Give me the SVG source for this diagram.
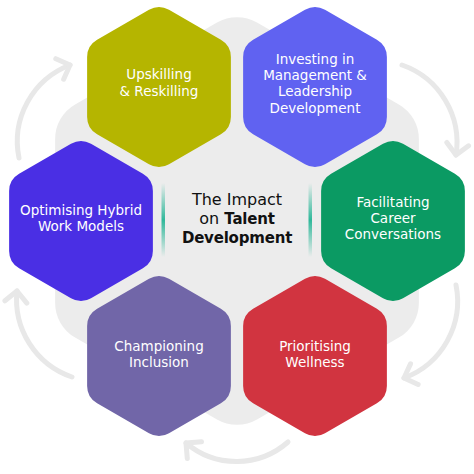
<svg xmlns="http://www.w3.org/2000/svg" xmlns:xlink="http://www.w3.org/1999/xlink" width="474" height="474" viewBox="0 0 474 474">
<style>
  .lbl{font-family:"DejaVu Sans","Liberation Sans",sans-serif;font-size:13.5px;fill:#ffffff;text-anchor:middle}
  .ctr{font-family:"DejaVu Sans","Liberation Sans",sans-serif;font-size:16px;fill:#111111;text-anchor:middle}
  .b{font-weight:700;font-size:15px;letter-spacing:-0.2px}
  .arc{fill:none;stroke:#e8e8e8;stroke-width:5;stroke-linecap:round;marker-end:url(#chev)}
</style>
<defs>
  <path id="hex" d="M10,-77.23 L61.88,-47.27 A20 20 0 0 1 71.88,-29.95 L71.88,29.95 A20 20 0 0 1 61.88,47.27 L10,77.23 A20 20 0 0 1 -10,77.23 L-61.88,47.27 A20 20 0 0 1 -71.88,29.95 L-71.88,-29.95 A20 20 0 0 1 -61.88,-47.27 L-10,-77.23 A20 20 0 0 1 10,-77.23 Z"/>
  <marker id="chev" viewBox="-16 -14 20 28" markerWidth="20" markerHeight="28" refX="0" refY="0" orient="auto" markerUnits="userSpaceOnUse">
    <path d="M-11,-11 L0,0 L-11,11" fill="none" stroke="#e8e8e8" stroke-width="5" stroke-linecap="round" stroke-linejoin="round"/>
  </marker>
  <linearGradient id="teal" x1="0" y1="0" x2="0" y2="1">
    <stop offset="0" stop-color="#2fb89a" stop-opacity="0"/>
    <stop offset="0.5" stop-color="#2fb89a" stop-opacity="1"/>
    <stop offset="1" stop-color="#2fb89a" stop-opacity="0"/>
  </linearGradient>
</defs>
<rect width="474" height="474" fill="#ffffff"/>
<path id="backdrop" transform="translate(237,221)" fill="#ececec" d="M20,-198.45 L161.87,-116.55 A40 40 0 0 1 181.87,-81.9 L181.87,81.9 A40 40 0 0 1 161.87,116.55 L20,198.45 A40 40 0 0 1 -20,198.45 L-161.87,116.55 A40 40 0 0 1 -181.87,81.9 L-181.87,-81.9 A40 40 0 0 1 -161.87,-116.55 L-20,-198.45 A40 40 0 0 1 20,-198.45 Z"/>
<g id="connectors">
  <path class="arc" d="M19,158 A82 82 0 0 1 70,65"/>
  <path class="arc" d="M402,65 A82 82 0 0 1 456,155"/>
  <path class="arc" d="M456,285 A82 82 0 0 1 404,378"/>
  <path class="arc" d="M288,442 A78 78 0 0 1 186,443"/>
  <path class="arc" d="M72,377 A82 82 0 0 1 17,291"/>
</g>
<g id="center">
  <rect x="161.5" y="183" width="3.5" height="74" fill="url(#teal)"/>
  <rect x="308.5" y="183" width="3.5" height="74" fill="url(#teal)"/>
  <text class="ctr" x="237" y="205">The Impact</text>
  <text class="ctr" x="237" y="224">on <tspan class="b">Talent</tspan></text>
  <text class="ctr b" x="237" y="243">Development</text>
</g>
<g id="upskilling">
  <use href="#hex" transform="translate(159,87)" fill="#b5b500"/>
  <text class="lbl" x="159" y="79">Upskilling</text>
  <text class="lbl" x="159" y="95.5">&amp; Reskilling</text>
</g>
<g id="investing">
  <use href="#hex" transform="translate(315,87)" fill="#6062f1"/>
  <text class="lbl" x="315" y="63.5">Investing in</text>
  <text class="lbl" x="315" y="79.5">Management &amp;</text>
  <text class="lbl" x="315" y="96">Leadership</text>
  <text class="lbl" x="315" y="112.5">Development</text>
</g>
<g id="optimising">
  <use href="#hex" transform="translate(81,221)" fill="#4a2fe4"/>
  <text class="lbl" x="81" y="215">Optimising Hybrid</text>
  <text class="lbl" x="81" y="231">Work Models</text>
</g>
<g id="facilitating">
  <use href="#hex" transform="translate(393,221)" fill="#0b9a63"/>
  <text class="lbl" x="393" y="206.5">Facilitating</text>
  <text class="lbl" x="393" y="222.5">Career</text>
  <text class="lbl" x="393" y="239">Conversations</text>
</g>
<g id="championing">
  <use href="#hex" transform="translate(159,356)" fill="#7166a8"/>
  <text class="lbl" x="159" y="350.5">Championing</text>
  <text class="lbl" x="159" y="366.5">Inclusion</text>
</g>
<g id="prioritising">
  <use href="#hex" transform="translate(315,356)" fill="#d13440"/>
  <text class="lbl" x="315" y="350.5">Prioritising</text>
  <text class="lbl" x="315" y="366.5">Wellness</text>
</g>
</svg>
